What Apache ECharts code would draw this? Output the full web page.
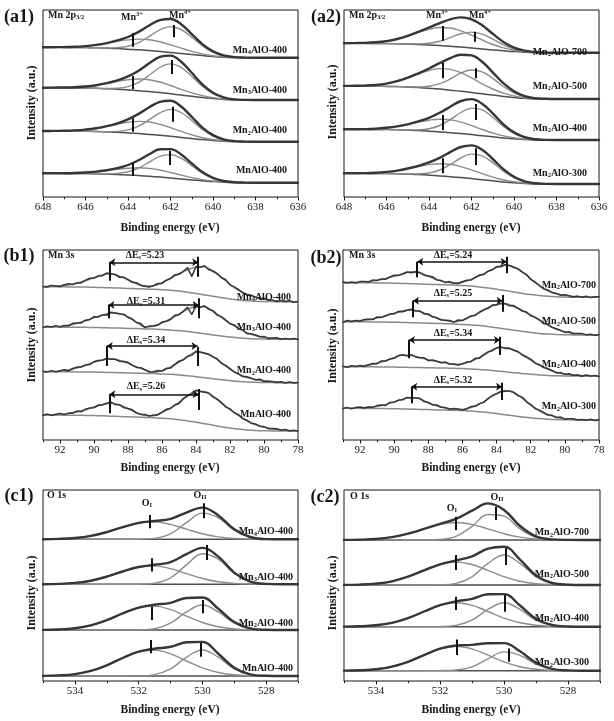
<!DOCTYPE html>
<html><head><meta charset="utf-8">
<script src="https://cdn.jsdelivr.net/npm/echarts@6/dist/echarts.min.js"></script>
<style>html,body{margin:0;padding:0;background:#fff}#c{width:614px;height:721px}</style>
</head><body><div id="c"></div><script>
// ---------- x grids (binding energy, eV) ----------
const xA = [648,647.5,647,646.5,646,645.5,645,644.5,644,643.5,643,642.5,642,641.5,641,640.5,640,639.5,639,638.5,638,637.5,637,636.5,636];
const xB = [93,92.5,92,91.5,91,90.5,90,89.5,89,88.5,88,87.5,87,86.5,86,85.5,85,84.5,84,83.5,83,82.5,82,81.5,81,80.5,80,79.5,79,78.5,78];
const xBd = [93,92.75,92.5,92.25,92,91.75,91.5,91.25,91,90.75,90.5,90.25,90,89.75,89.5,89.25,89,88.75,88.5,88.25,88,87.75,87.5,87.25,87,86.75,86.5,86.25,86,85.75,85.5,85.25,85,84.75,84.5,84.25,84,83.75,83.5,83.25,83,82.75,82.5,82.25,82,81.75,81.5,81.25,81,80.75,80.5,80.25,80,79.75,79.5,79.25,79,78.75,78.5,78.25,78];
const xC = [535,534.5,534,533.5,533,532.5,532,531.5,531,530.5,530,529.5,529,528.5,528,527.5,527];

// ---------- tick labels ----------
const ticksA = [636,638,640,642,644,646,648];
const minorA = [637,639,641,643,645,647];
const ticksB = [78,80,82,84,86,88,90,92];
const minorB = [79,81,83,85,87,89,91,93];
const ticksC = [528,530,532,534];
const minorC = [527,529,531,533,535];

// ---------- sample names ----------
const namesSeries1 = ['Mn4AlO-400','Mn3AlO-400','Mn2AlO-400','MnAlO-400'];
const namesSeries2 = ['Mn2AlO-700','Mn2AlO-500','Mn2AlO-400','Mn2AlO-300'];

// ---------- (a1) Mn 2p3/2 ----------
const a1Off = [139.3, 97, 55.3, 14.3];
const a1Bg = [
 [10.4,10.4,10.3,10.2,10.1,9.9,9.6,9.2,8.5,7.9,7.1,6.2,5.2,4.2,3.1,2.1,1.2,0.5,0.1,0,0,0,0,0,0],
 [12.3,12.3,12.2,12.1,11.9,11.7,11.3,10.8,10.1,9.3,8.4,7.4,6.2,4.9,3.7,2.5,1.5,0.6,0.1,0,0,0,0,0,0],
 [10.7,10.7,10.6,10.5,10.4,10.2,9.8,9.4,8.8,8.1,7.3,6.4,5.4,4.3,3.2,2.1,1.3,0.5,0.1,0,0,0,0,0,0],
 [9.4,9.4,9.3,9.2,9.1,8.9,8.6,8.3,7.7,7.1,6.4,5.6,4.7,3.8,2.8,1.9,1.1,0.5,0.1,0,0,0,0,0,0]];
const a1Mn3 = [
 [0,0.1,0.3,0.7,1.5,2.9,4.8,7.2,9.3,10.7,10.9,9.7,7.6,5.3,3.2,1.7,0.8,0.3,0.1,0,0,0,0,0,0],
 [0,0.1,0.3,0.7,1.6,3.1,5.3,7.8,10.2,11.7,11.9,10.6,8.3,5.7,3.5,1.9,0.9,0.4,0.1,0,0,0,0,0,0],
 [0,0.1,0.3,0.8,1.7,3.2,5.5,8.1,10.6,12.2,12.4,11.0,8.7,6.0,3.6,1.9,0.9,0.4,0.1,0,0,0,0,0,0],
 [0,0.1,0.2,0.5,1.1,2.1,3.5,5.2,6.8,7.8,7.9,7.1,5.5,3.8,2.3,1.2,0.6,0.2,0.1,0,0,0,0,0,0]];
const a1Mn4 = [
 [0,0,0,0,0,0,0.2,0.9,2.9,7.2,14.2,21.7,25.9,24.0,17.3,9.8,4.3,1.5,0.4,0.1,0,0,0,0,0],
 [0,0,0,0,0,0,0.2,1.0,3.3,8.3,16.4,25.1,29.9,27.7,20.0,11.3,4.9,1.7,0.4,0.1,0,0,0,0,0],
 [0,0,0,0,0,0,0.2,0.9,3.0,7.5,14.7,22.5,26.9,24.9,18.0,10.1,4.4,1.5,0.4,0.1,0,0,0,0,0],
 [0,0,0,0,0,0.1,0.3,1.0,3.2,7.6,14.2,20.7,23.4,20.7,14.2,7.6,3.2,1.0,0.3,0.1,0,0,0,0,0]];
// [Mn3+ eV, low, high, Mn4+ eV, low, high]
const a1Marks = [[643.8,11,24.4,641.85,20.4,32.7],[643.8,10.7,24,641.95,26,40],[643.8,10,23.4,641.9,20,35],[643.8,6.7,20,642.05,17.7,32]];

// ---------- (a2) ----------
const a2Off = [144.3, 98, 57, 13];
const a2Bg = [
 [9.4,9.4,9.3,9.2,9.1,8.9,8.6,8.3,7.7,7.1,6.4,5.6,4.7,3.8,2.8,1.9,1.1,0.5,0.1,0,0,0,0,0,0],
 [13,13,12.9,12.7,12.6,12.4,12,11.4,10.7,9.9,8.8,7.8,6.5,5.2,3.9,2.6,1.6,0.7,0.1,0,0,0,0,0,0],
 [10.7,10.7,10.6,10.5,10.4,10.2,9.8,9.4,8.8,8.1,7.3,6.4,5.4,4.3,3.2,2.1,1.3,0.5,0.1,0,0,0,0,0,0],
 [10.7,10.7,10.6,10.5,10.4,10.2,9.8,9.4,8.8,8.1,7.3,6.4,5.4,4.3,3.2,2.1,1.3,0.5,0.1,0,0,0,0,0,0]];
const a2Mn3 = [
 [0.1,0.2,0.5,1.2,2.5,4.8,8.1,12.0,15.7,18.1,18.3,16.3,12.8,8.9,5.4,2.9,1.4,0.6,0.2,0.1,0,0,0,0,0],
 [0.1,0.2,0.5,1.3,2.8,5.4,9.2,13.7,17.8,20.5,20.8,18.5,14.6,10.0,6.1,3.3,1.5,0.6,0.2,0.1,0,0,0,0,0],
 [0,0.1,0.3,0.8,1.8,3.4,5.7,8.5,11.0,12.7,12.9,11.5,9.0,6.2,3.8,2.0,1.0,0.4,0.1,0,0,0,0,0,0],
 [0,0.1,0.3,0.8,1.7,3.2,5.5,8.1,10.6,12.2,12.4,11.0,8.7,6.0,3.6,1.9,0.9,0.4,0.1,0,0,0,0,0,0]];
const a2Mn4 = [
 [0,0,0,0,0,0,0.1,0.5,1.8,4.4,8.7,13.4,15.9,14.8,10.7,6.0,2.6,0.9,0.2,0,0,0,0,0,0],
 [0,0,0,0,0,0,0.1,0.6,2.0,5.4,11.2,18.0,22.5,22.0,16.7,9.9,4.6,1.6,0.5,0.1,0,0,0,0,0],
 [0,0,0,0,0,0,0.2,0.7,2.4,6.4,13.1,21.1,26.5,25.8,19.6,11.6,5.3,1.9,0.5,0.1,0,0,0,0,0],
 [0,0,0,0,0,0,0.2,0.7,2.2,5.9,12.2,19.6,24.5,23.9,18.2,10.8,5.0,1.8,0.5,0.1,0,0,0,0,0]];
const a2Marks = [[643.35,12,26.7,641.85,11,21],[643.35,20.7,36.3,641.8,20.7,30.7],[643.35,10,25,641.8,20,36],[643.35,10.7,25.7,641.8,19,35.7]];

// ---------- (b1) Mn 3s ----------
const b1Off = [138.3, 100.7, 57.3, 9];
const b1Bg = [
 [15,15,14.9,14.8,14.7,14.6,14.4,14.2,13.9,13.6,13.3,13,12.7,12.4,12,11.4,10.6,9.5,8.2,6.8,5.4,4,2.8,1.8,1,0.5,0.2,0.1,0,0,0],
 [12.3,12.3,12.2,12.1,12.1,12,11.8,11.6,11.4,11.2,10.9,10.7,10.4,10.2,9.8,9.3,8.7,7.8,6.7,5.6,4.4,3.3,2.3,1.5,0.8,0.4,0.2,0.1,0,0,0],
 [11,11,10.9,10.9,10.8,10.7,10.6,10.4,10.2,10,9.8,9.5,9.3,9.1,8.8,8.4,7.8,7,6,5,4,2.9,2.1,1.3,0.7,0.4,0.1,0.1,0,0,0],
 [16,16,15.9,15.8,15.7,15.6,15.4,15.2,14.8,14.5,14.2,13.9,13.6,13.2,12.8,12.2,11.3,10.1,8.8,7.2,5.8,4.3,3,1.9,1.1,0.5,0.2,0.1,0,0,0]];
const b1Fit = [
 [15,15.5,16,16.8,18.5,21,24,26.8,28,25.5,22,18,15.3,15.8,19,23.5,28,32,34.5,35,30.5,24.5,17.5,11.5,7.5,4.5,2.5,1.2,0.6,0.2,0],
 [12.3,12.5,13,14,16,18.5,21.5,24.2,26.3,25.8,22.5,17,12.5,13,16.3,20.5,25,30,32.5,32.5,28,22,16,11,6.5,3.8,2,1,0.5,0.2,0],
 [11,11.2,11.7,12.8,14.8,17.5,20.5,23,23.7,22.3,19.5,16,12.8,10.5,12,15.5,20.5,26,30.5,30,26,20,13.5,8.5,5.3,3.3,1.8,0.8,0.3,0.1,0],
 [16,16.2,16.6,17.5,19,21.3,24,26.5,27.7,26,22.3,18.5,15.5,15.3,18.5,23,28.5,35,40,39.5,34.5,28,21.5,15.5,10.3,6.3,3.8,2.2,1.2,0.5,0.2]];
const b1Raw = [
 [15.3,14.7,16.3,15.6,15.1,16.9,17.9,17.3,18.7,18.8,21.6,23.4,23.5,25.7,26,28.6,27.7,27.2,24.4,24.5,22.1,19.4,19,16.5,15.8,14.7,16.1,18.2,18.3,21.5,23.1,26.9,27.4,30.4,34,25.3,35.1,34.5,35.9,32,30.7,28,24,22,16.6,14.8,12.2,9.1,6.7,6.6,4.6,3,3.4,1.6,1.6,0.2,1.1,0.2,1,-0.5,0.3],
 [11.9,13.1,12.3,13.7,12.2,13.8,13.5,16,16.4,16.4,19.1,19.7,22.6,22.3,24.4,24.3,27.1,26.4,25.4,25.1,21.8,20.3,16.8,15.8,11.7,13.2,13.6,14.2,17.2,18.1,19.8,24,24.6,28,32,25,32.8,31.9,33.5,30,28.4,24.2,22.7,19.2,15.5,14.4,10.6,9.4,5.6,5.5,4.3,2.6,2.8,0.9,1.2,1.5,0,0.8,0,0.7,-0.3],
 [11.5,10.8,12.1,10.8,11.9,12.9,11.8,14.2,15.6,15.7,17.6,18.1,21.2,22.1,22.4,24.4,23.5,23.5,21.5,21.3,20.4,17.4,15.3,15,13,10.7,11,12.1,11.7,14.4,14.6,18.3,21.5,22.8,26.2,27.6,31.4,30.7,29.4,28.3,25.8,23.8,19.1,17.3,14.1,10.6,8.8,6.1,6,4.4,2.8,3.5,1.2,1.5,1.2,0.3,1,-0.4,0.6,-0.2,0.3],
 [15.8,16.9,15.6,16.7,17.6,16.4,17.9,18,19.9,19.2,21.8,22.9,23.2,26,26.1,27.7,28.8,26.4,26.3,23.3,22.5,21.2,17.9,16.7,16.5,15,15.9,16.1,18.8,21.7,22.5,26,27.5,32.5,35.4,36.9,40.8,39.6,38.8,38,34.1,31.8,28.3,23.9,22.1,18.3,16.4,12.3,10.7,7.8,7.1,4.8,4.4,2.3,2.4,2.2,0.8,1.6,0,0.7,0]];
// [left eV, right eV, arrow height, left low, right low, right high]
const b1Marks = [[89.1,83.87,39.4,21,25,45],[89.15,83.84,34.3,21,21,41],[89.25,83.91,36.7,16.7,16.7,36],[89.1,83.84,36.7,17.7,21,42]];
const b1Delta = ['5.23','5.31','5.34','5.26'];

// ---------- (b2) ----------
const b2Off = [142.7, 105, 64, 20];
const b2Bg = [
 [14.7,14.7,14.6,14.5,14.4,14.3,14.1,13.9,13.6,13.3,13,12.7,12.5,12.2,11.8,11.2,10.4,9.3,8,6.7,5.3,3.9,2.7,1.8,1,0.5,0.2,0.1,0,0,0],
 [13.3,13.3,13.2,13.1,13,12.9,12.8,12.6,12.3,12.1,11.8,11.5,11.3,11,10.6,10.1,9.4,8.4,7.3,6,4.8,3.6,2.5,1.6,0.9,0.4,0.2,0.1,0,0,0],
 [9.3,9.3,9.2,9.2,9.1,9,8.9,8.8,8.6,8.4,8.2,8.1,7.9,7.7,7.4,7.1,6.6,5.9,5.1,4.2,3.3,2.5,1.7,1.1,0.6,0.3,0.1,0.1,0,0,0],
 [11.7,11.7,11.6,11.5,11.5,11.4,11.2,11.1,10.8,10.6,10.4,10.1,9.9,9.7,9.4,8.9,8.3,7.4,6.4,5.3,4.2,3.1,2.2,1.4,0.8,0.4,0.2,0.1,0,0,0]];
const b2Fit = [
 [14.7,14.9,15.2,15.8,17,18.8,21.2,23.6,25.5,24.5,21,17.8,15.3,14.2,15,17.8,21.5,25.8,29.8,32.3,30.5,25.5,18.5,11.5,6.5,3.5,1.8,0.8,0.3,0.1,0],
 [13.3,13.8,14.5,15.5,17,19,21.8,24.2,25,23.5,20,16.8,14.5,13.3,14.8,18.5,22.5,27.3,30.5,31.5,28.5,24.5,20,15,10,5.8,3.2,1.7,0.8,0.3,0],
 [9.3,9.5,10,11,12.8,15.3,18.5,20.8,20.5,18.5,16.3,14.5,13,11.5,12,14.8,18.5,23.5,28,28.5,26,21.5,16,11,6.8,3.8,2,1,0.4,0.1,0],
 [11.7,11.9,12.2,12.8,13.8,15.5,18,20.8,22.5,21,17.3,14,12,10.8,10.5,12.5,16,21,26.5,29.5,27.5,22,15,9.3,5.5,2.8,1.3,0.6,0.2,0,0]];
const b2Raw = [
 [15.3,14.4,15.1,14.2,15.9,15.8,15.2,17.4,16.8,18.4,18,20.4,22.1,21.9,23.3,25.4,24.5,25.6,24.7,22.1,21.4,20.5,17.4,16.9,14.7,15.7,14,13.8,15.5,17.1,17.3,20,22.3,22.8,26.2,27.5,30.8,30.5,32.5,31.9,29.8,28.4,25.1,22.9,17.9,15.3,12.1,8.5,7.3,4.7,3.9,2.1,2.5,1.5,0.3,1.2,0,1,-0.3,0.6,0.6],
 [12.8,14.5,13.5,14.6,13.7,15.6,15.7,15.4,18,17.6,19.3,21.1,21.2,23.5,23.2,24.8,25.8,24,24.1,21.1,21,18.2,17.2,14.9,14.8,14.5,12.8,15,14.4,16.9,19.2,19.6,23,25.2,26.7,29.9,30.1,31.6,31.3,29.2,29.4,26.8,24,22.9,19.3,17.9,15.2,11.6,10.8,7.6,6.3,4.7,2.6,3.2,1.3,1.6,1.4,0.1,0.7,-0.2,0.2],
 [9.7,8.7,10.3,9.6,10.5,9.6,11.3,12.5,12.3,15.1,15,17.1,17.7,20.4,21.2,20.1,21.4,19.1,18.3,18.2,15.3,15.9,14.8,13.2,13.9,12,12.1,11,12.2,13.9,14.4,17.7,17.8,21.3,24.1,25.3,28.2,29.1,27.6,27.7,25.7,24.5,21,19,16.9,12.9,11.3,8.5,7.4,5.5,3.1,3.4,1.7,2.3,0.5,1,-0.2,1,-0.1,0.5,-0.4],
 [11.4,12.4,11.1,12.5,13.1,12,13,12.6,14.4,15,14.5,17.6,17.8,19.9,20.2,22.6,22.1,22.1,21.7,18.4,17.5,15.2,15,12.7,12.4,10.7,11.6,11,10,11.3,13.4,13.7,16.4,17.6,21.5,24.5,26.1,28.3,28.7,29.1,27.7,24.3,22.9,18.2,15.4,11.5,9.9,7.5,4.9,4.7,2.6,2.9,0.9,1.3,1.2,-0.1,0.4,-0.2,0.7,-0.4,0.3]];
const b2Marks = [[88.65,83.41,35.6,20,24,40.6],[88.9,83.65,34.3,17.7,23.3,40],[89.14,83.8,36,17.7,21,39.3],[89.0,83.68,33.3,16.7,20,37.3]];
const b2Delta = ['5.24','5.25','5.34','5.32'];

// ---------- (c1) O 1s ----------
const cBgFlat = [0,0,0,0,0,0,0,0,0,0,0,0,0,0,0,0,0];
const c1Off = [141.7, 96.7, 51, 5];
const c1OI = [
 [0.1,0.4,1.3,3.4,7.2,12.1,16.3,17.4,14.9,10.1,5.5,2.4,0.8,0.2,0,0,0],
 [0.1,0.4,1.4,3.6,7.6,12.8,17.2,18.4,15.7,10.7,5.8,2.5,0.9,0.2,0.1,0,0],
 [0.1,0.5,1.8,4.7,9.9,16.6,22.3,23.9,20.4,13.9,7.5,3.2,1.1,0.3,0.1,0,0],
 [0.1,0.6,1.9,5.1,10.7,18.0,24.2,25.9,22.1,15.0,8.1,3.5,1.2,0.3,0.1,0,0]];
const c1OII = [
 [0,0,0,0,0,0,0.1,0.9,5.5,16.6,26.2,21.5,9.2,2.1,0.2,0,0],
 [0,0,0,0,0,0,0.1,1.1,6.4,19.4,30.6,25.2,10.8,2.4,0.3,0,0],
 [0,0,0,0,0,0,0.1,1.3,6.8,18.1,25,18.1,6.8,1.3,0.1,0,0],
 [0,0,0,0,0,0,0.1,1.4,7.1,18.8,26,18.8,7.1,1.4,0.1,0,0]];
const c1Marks = [[531.65,11,24.3,529.95,21,36],[531.6,12.7,26,529.87,24.3,39.3],[531.6,10,23.3,530.0,16.7,30],[531.62,22.7,36,530.05,19.3,33.3]];

// ---------- (c2) ----------
const c2Off = [141, 96, 54.3, 10.3];
const c2OI = [
 [0.1,0.3,1.0,2.9,6.3,11.1,15.6,17.5,15.6,11.1,6.3,2.9,1.0,0.3,0.1,0,0],
 [0.1,0.4,1.4,3.7,8.3,14.6,20.5,23,20.5,14.6,8.3,3.7,1.4,0.4,0.1,0,0],
 [0.1,0.4,1.4,3.9,8.6,15.2,21.4,24,21.4,15.2,8.6,3.9,1.4,0.4,0.1,0,0],
 [0.1,0.4,1.4,4.0,8.8,15.6,21.9,24.5,21.9,15.6,8.8,4.0,1.4,0.4,0.1,0,0]];
const c2OII = [
 [0,0,0,0,0,0,0.5,3.6,13.7,25.5,23.8,11.1,2.6,0.3,0,0,0],
 [0,0,0,0,0,0,0.2,1.6,8.2,21.7,30,21.7,8.2,1.6,0.2,0,0],
 [0,0,0,0,0,0,0.1,1.3,6.5,17.3,24,17.3,6.5,1.3,0.1,0,0],
 [0,0,0,0,0,0,0.1,0.7,3.9,11.9,18.8,15.4,6.6,1.5,0.2,0,0]];
const c2Marks = [[531.5,10,23.3,530.26,20,33.3],[531.52,15,30,529.93,20,36.7],[531.52,16.7,30,529.98,15,31.7],[531.49,15.7,31.3,529.84,9,22.3]];

// ================= build =================
const SERIF = '"Liberation Serif","Times New Roman",serif';
const INK = '#161616';
const ENV = '#363636', COMP = '#8c8c8c', BGC = '#4e4e4e', B3 = '#8a8a8a';
const grids = [], xAxes = [], yAxes = [], series = [], graphics = [];

function addPanel(rect, xmin, xmax, major, minor) {
  const gi = grids.length;
  grids.push({left:rect[0], top:rect[1], width:rect[2], height:rect[3], show:true, borderColor:INK, borderWidth:1, backgroundColor:'rgba(0,0,0,0)'});
  xAxes.push({gridIndex:gi, type:'value', min:xmin, max:xmax, inverse:true,
    axisLine:{show:false}, splitLine:{show:false},
    axisTick:{show:true, length:3.5, customValues:major, lineStyle:{color:INK, width:1}},
    axisLabel:{show:true, customValues:major, margin:5, fontFamily:SERIF, fontSize:11, color:INK}});
  yAxes.push({gridIndex:gi, type:'value', min:0, max:rect[3], show:false});
  const gm = grids.length;
  grids.push({left:rect[0], top:rect[1], width:rect[2], height:rect[3], show:false});
  xAxes.push({gridIndex:gm, type:'value', min:xmin, max:xmax, inverse:true,
    axisLine:{show:false}, splitLine:{show:false}, axisLabel:{show:false},
    axisTick:{show:true, length:2.2, customValues:minor, lineStyle:{color:INK, width:1}}});
  yAxes.push({gridIndex:gm, type:'value', min:0, max:1, show:false});
  return gi;
}
function line(gi, pts, color, width, smooth, z, extra) {
  return Object.assign({type:'line', xAxisIndex:gi, yAxisIndex:gi, data:pts, symbol:'none', showSymbol:false,
    smooth:smooth, silent:true, animation:false, z:z, emphasis:{disabled:true},
    lineStyle:{color:color, width:width, cap:'round', join:'round'}}, extra || {});
}
function vseg(x, y1, y2) { return [{coord:[x, y1]}, {coord:[x, y2]}]; }

function addFitRows(gi, xs, offs, bgs, compA, compB, marks) {
  offs.forEach((o, r) => {
    const bg = bgs[r];
    series.push(line(gi, xs.map((x,i)=>[x, o+bg[i]]), BGC, 1.5, 0.4, 2));
    series.push(line(gi, xs.map((x,i)=>[x, o+bg[i]+compA[r][i]]), COMP, 1.4, 0.4, 3));
    series.push(line(gi, xs.map((x,i)=>[x, o+bg[i]+compB[r][i]]), COMP, 1.4, 0.4, 3));
    const m = marks[r];
    series.push(line(gi, xs.map((x,i)=>[x, o+bg[i]+compA[r][i]+compB[r][i]]), ENV, 2.4, 0.4, 4, {
      markLine:{silent:true, symbol:'none', animation:false, label:{show:false}, emphasis:{disabled:true},
        lineStyle:{color:'#111', width:2, type:'solid'},
        data:[vseg(m[0], o+m[1], o+m[2]), vseg(m[3], o+m[4], o+m[5])]}
    }));
  });
}
function addMn3s(gi, offs, bgs, fits, raws, marks) {
  offs.forEach((o, r) => {
    series.push(line(gi, xB.map((x,i)=>[x, o+bgs[r][i]]), B3, 1.5, 0.4, 2));
    series.push(line(gi, xB.map((x,i)=>[x, o+fits[r][i]]), B3, 1.6, 0.4, 3));
    const m = marks[r];
    series.push(line(gi, xBd.map((x,i)=>[x, o+raws[r][i]]), ENV, 1.5, false, 4, {
      markLine:{silent:true, symbol:'none', animation:false, label:{show:false}, emphasis:{disabled:true},
        lineStyle:{color:'#111', width:2, type:'solid'},
        data:[vseg(m[0], o+m[3], o+m[2]), vseg(m[1], o+m[4], o+m[5]),
          [{coord:[m[0], o+m[2]], symbol:'arrow', symbolSize:6, lineStyle:{width:1.5}},
           {coord:[m[1], o+m[2]], symbol:'arrow', symbolSize:6}]]}
    }));
  });
}

// panels
const gA1 = addPanel([43,10,255,187], 636, 648, ticksA, minorA);
addFitRows(gA1, xA, a1Off, a1Bg, a1Mn3, a1Mn4, a1Marks);
const gA2 = addPanel([344,10,255,187], 636, 648, ticksA, minorA);
addFitRows(gA2, xA, a2Off, a2Bg, a2Mn3, a2Mn4, a2Marks);
const gB1 = addPanel([43,250,255,190], 78, 93, ticksB, minorB);
addMn3s(gB1, b1Off, b1Bg, b1Fit, b1Raw, b1Marks);
const gB2 = addPanel([343,250,256,190], 78, 93, ticksB, minorB);
addMn3s(gB2, b2Off, b2Bg, b2Fit, b2Raw, b2Marks);
const gC1 = addPanel([43,490,255,191], 527, 535, ticksC, minorC);
addFitRows(gC1, xC, c1Off, [cBgFlat,cBgFlat,cBgFlat,cBgFlat], c1OI, c1OII, c1Marks);
const gC2 = addPanel([344,490,256,191], 527, 535, ticksC, minorC);
addFitRows(gC2, xC, c2Off, [cBgFlat,cBgFlat,cBgFlat,cBgFlat], c2OI, c2OII, c2Marks);

// ---------- texts ----------
const rich = {
  n:{fontFamily:SERIF, fontSize:10, fontWeight:'bold', fill:INK, lineHeight:12},
  s:{fontFamily:SERIF, fontSize:6.5, fontWeight:'bold', fill:INK, lineHeight:7, verticalAlign:'bottom'},
  p:{fontFamily:SERIF, fontSize:6.5, fontWeight:'bold', fill:INK, lineHeight:7, verticalAlign:'top'}
};
function T(x, y, text, o) {
  o = o || {};
  graphics.push({type:'text', x:x, y:y, silent:true, rotation:o.rot || 0, z:100,
    style:{text:text, fontFamily:SERIF, fontSize:o.size || 10, fontWeight:'bold', fill:INK,
      align:o.align || 'center', verticalAlign:'middle', rich:o.rich || undefined}});
}
function richName(s) {
  const m = s.match(/^Mn(\d?)AlO-(\d+)$/);
  return m[1] ? '{n|Mn}{s|' + m[1] + '}{n|AlO-' + m[2] + '}' : '{n|MnAlO-' + m[2] + '}';
}
// panel tags
[['(a1)',19,17],['(a2)',326,17],['(b1)',19,256],['(b2)',326,258],['(c1)',19,496],['(c2)',325,497]]
  .forEach(t => T(t[1], t[2], t[0], {size:18}));
// axis titles
[[32,103],[333,102],[32,345],[333,346],[32,593],[333,593]]
  .forEach(p => T(p[0], p[1], 'Intensity (a.u.)', {size:12, rot:Math.PI/2}));
[[170,228],[471,228],[170,468],[471,468],[170,710],[471,710]]
  .forEach(p => T(p[0], p[1], 'Binding energy (eV)', {size:11.5}));
// sample labels
const lblA1 = [[287,50],[287,90],[287,130.7],[287,170.7]];
const lblA2 = [[587,52.3],[587,86],[587,128.3],[587,173.3]];
const lblB1 = [[291,297.3],[291,327.3],[291,370.7],[291,414]];
const lblB2 = [[596,285],[596,321.7],[596,364],[596,406.7]];
const lblC1 = [[293,531.7],[293,577.3],[293,623.3],[293,668.3]];
const lblC2 = [[589,532.7],[589,574],[589,618.3],[589,662.7]];
[[lblA1,namesSeries1],[lblA2,namesSeries2],[lblB1,namesSeries1],[lblB2,namesSeries2],[lblC1,namesSeries1],[lblC2,namesSeries2]]
  .forEach(pair => pair[0].forEach((p,i) => T(p[0], p[1], richName(pair[1][i]), {align:'right', rich:rich})));
// region titles
T(48, 15, '{n|Mn 2p}{s|3/2}', {align:'left', rich:rich});
T(349, 15, '{n|Mn 2p}{s|3/2}', {align:'left', rich:rich});
T(48, 255, 'Mn 3s', {align:'left'});
T(349, 255, 'Mn 3s', {align:'left'});
T(47, 495, 'O 1s', {align:'left'});
T(350, 496, 'O 1s', {align:'left'});
// peak annotations
T(132, 17, '{n|Mn}{p|3+}', {rich:rich});
T(180, 15, '{n|Mn}{p|4+}', {rich:rich});
T(437, 15, '{n|Mn}{p|3+}', {rich:rich});
T(480, 15, '{n|Mn}{p|4+}', {rich:rich});
T(147, 503, '{n|O}{s|I}', {rich:rich});
T(200, 495, '{n|O}{s|II}', {rich:rich});
T(452, 508, '{n|O}{s|I}', {rich:rich});
T(497, 497, '{n|O}{s|II}', {rich:rich});
// delta E labels
[[145,255],[146,301.7],[146,340],[146,386.7]].forEach((p,i) => T(p[0], p[1], '{n|ΔE}{s|s}{n|=' + b1Delta[i] + '}', {rich:rich}));
[[453,255],[453,293.3],[453,333.3],[453,380]].forEach((p,i) => T(p[0], p[1], '{n|ΔE}{s|s}{n|=' + b2Delta[i] + '}', {rich:rich}));

const chart = echarts.init(document.getElementById('c'), null, {renderer:'canvas', width:614, height:721});
chart.setOption({animation:false, backgroundColor:'#ffffff', grid:grids, xAxis:xAxes, yAxis:yAxes, series:series, graphic:{elements:graphics}});
</script></body></html>
